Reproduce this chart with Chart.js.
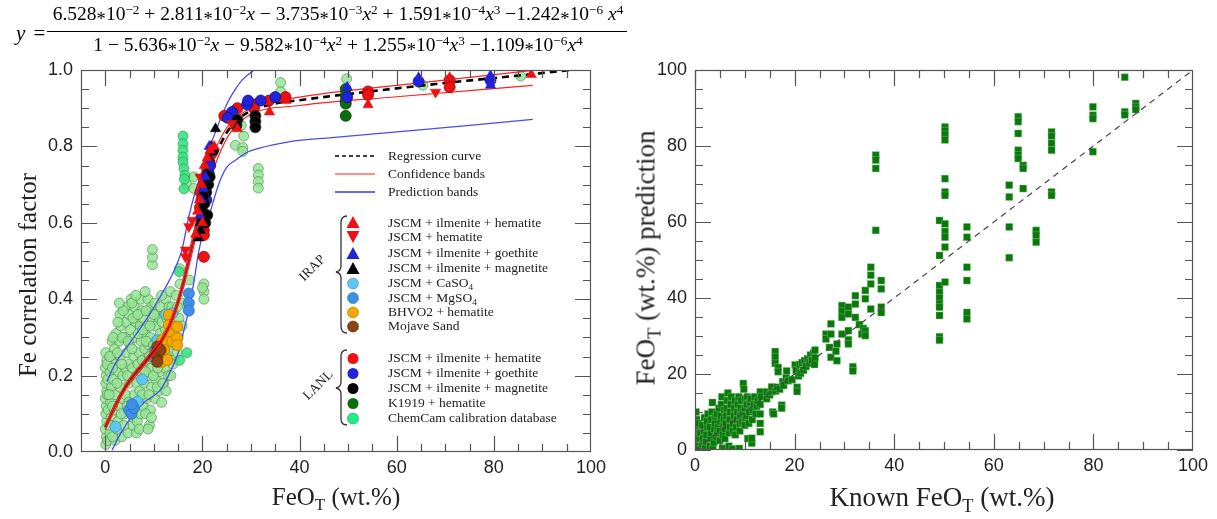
<!DOCTYPE html>
<html>
<head>
<meta charset="utf-8">
<script src="https://cdn.jsdelivr.net/npm/chart.js@4.4.1/dist/chart.umd.min.js"></script>
<style>
  body { margin: 0; width: 1217px; height: 519px; position: relative; overflow: hidden; background: #fff;
         font-family: "Liberation Serif", "Times New Roman", serif; color: #222; }
  canvas { position: absolute; top: 0; }
  #leftChart { left: 0; }
  #rightChart { left: 615px; }
  .txt { position: absolute; white-space: nowrap; }
  .rot { transform: translate(-50%, -50%) rotate(-90deg); }
  .ctr { transform: translate(-50%, -50%); }
  sup { font-size: 0.68em; position: relative; top: -0.45em; vertical-align: baseline; }
  sub { font-size: 0.68em; position: relative; top: 0.3em; vertical-align: baseline; }
  .ast { position: relative; top: 0.28em; font-size: 0.95em; }
  #fy { left: 16px; top: 21px; font-size: 21px; color: #000; word-spacing: 3px; }
  #num, #den { left: 51px; width: 574px; text-align: center; font-size: 19.5px; color: #000; }
  #num { top: 3px; }
  #den { top: 34px; }
  #bar { position: absolute; left: 47px; top: 31px; width: 580px; height: 1px; background: #000; }
  .leg { font-size: 13.5px; line-height: 16px; left: 388px; }
  .grp { font-size: 13.5px; transform: translate(-50%, -50%) rotate(-45deg); }
</style>
</head>
<body>
<canvas id="leftChart" width="615" height="519"></canvas>
<canvas id="rightChart" width="602" height="519"></canvas>

<div id="fy" class="txt"><i>y</i> =</div>
<div id="num" class="txt">6.528<span class="ast">*</span>10<sup>−2</sup> + 2.811<span class="ast">*</span>10<sup>−2</sup><i>x</i> − 3.735<span class="ast">*</span>10<sup>−3</sup><i>x</i><sup>2</sup> + 1.591<span class="ast">*</span>10<sup>−4</sup><i>x</i><sup>3</sup> −1.242<span class="ast">*</span>10<sup>−6</sup> <i>x</i><sup>4</sup></div>
<div id="bar"></div>
<div id="den" class="txt">1 − 5.636<span class="ast">*</span>10<sup>−2</sup><i>x</i> − 9.582<span class="ast">*</span>10<sup>−4</sup><i>x</i><sup>2</sup> + 1.255<span class="ast">*</span>10<sup>−4</sup><i>x</i><sup>3</sup> −1.109<span class="ast">*</span>10<sup>−6</sup><i>x</i><sup>4</sup></div>

<div class="txt rot" style="left:28px;top:275px;font-size:25px">Fe correlation factor</div>
<div class="txt ctr" style="left:336px;top:497px;font-size:25px">FeO<sub>T</sub> (wt.%)</div>
<div class="txt rot" style="left:646px;top:258px;font-size:27px">FeO<sub>T</sub> (wt.%) prediction</div>
<div class="txt ctr" style="left:942px;top:497px;font-size:27px">Known FeO<sub>T</sub> (wt.%)</div>

<svg width="1217" height="519" style="position:absolute;left:0;top:0">
  <line x1="335" y1="156" x2="375" y2="156" stroke="#000" stroke-width="1.4" stroke-dasharray="4,3"/>
  <line x1="335" y1="174" x2="375" y2="174" stroke="#ff2020" stroke-width="1.2"/>
  <line x1="335" y1="192" x2="375" y2="192" stroke="#6a6af5" stroke-width="1.8"/>
  <path d="M347 216 Q341 216 341 223 L341 266 Q341 271 336 272 Q341 273 341 278 L341 326 Q341 333 347 333" fill="none" stroke="#333" stroke-width="1.3"/>
  <path d="M347 350 Q341 350 341 356 L341 382 Q341 387 336 388 Q341 389 341 394 L341 419 Q341 425 347 425" fill="none" stroke="#333" stroke-width="1.3"/>
  <polygon points="353,216 359.5,228 346.5,228" fill="#ee1111"/>
  <polygon points="353,243 359.5,231 346.5,231" fill="#ee1111"/>
  <polygon points="353,247 359.5,259 346.5,259" fill="#2222dd"/>
  <polygon points="353,262 359.5,274 346.5,274" fill="#000"/>
  <circle cx="353" cy="283.5" r="5.5" fill="#5cc8f2" stroke="#4a90b0" stroke-width="0.6"/>
  <circle cx="353" cy="298" r="5.5" fill="#3d8fe8" stroke="#3070b0" stroke-width="0.6"/>
  <circle cx="353" cy="312.5" r="5.5" fill="#f5a800" stroke="#b07a00" stroke-width="0.6"/>
  <circle cx="353" cy="326.5" r="5.5" fill="#8b4513" stroke="#5a2d0c" stroke-width="0.6"/>
  <circle cx="353" cy="358.5" r="5.5" fill="#ee1111"/>
  <circle cx="353" cy="373.5" r="5.5" fill="#2222dd"/>
  <circle cx="353" cy="388.5" r="5.5" fill="#000"/>
  <circle cx="353" cy="403.5" r="5.5" fill="#0b6e0b"/>
  <circle cx="353" cy="418.5" r="5.5" fill="#22ee88" stroke="#1aa060" stroke-width="0.6"/>
</svg>

<div class="txt leg" style="top:148px">Regression curve</div>
<div class="txt leg" style="top:166px">Confidence bands</div>
<div class="txt leg" style="top:184px">Prediction bands</div>
<div class="txt leg" style="top:215px">JSCM + ilmenite + hematite</div>
<div class="txt leg" style="top:229px">JSCM + hematite</div>
<div class="txt leg" style="top:245px">JSCM + ilmenite + goethite</div>
<div class="txt leg" style="top:260px">JSCM + ilmenite + magnetite</div>
<div class="txt leg" style="top:275px">JSCM + CaSO<sub>4</sub></div>
<div class="txt leg" style="top:290px">JSCM + MgSO<sub>4</sub></div>
<div class="txt leg" style="top:304px">BHVO2 + hematite</div>
<div class="txt leg" style="top:318px">Mojave Sand</div>
<div class="txt leg" style="top:350px">JSCM + ilmenite + hematite</div>
<div class="txt leg" style="top:365px">JSCM + ilmenite + goethite</div>
<div class="txt leg" style="top:380px">JSCM + ilmenite + magnetite</div>
<div class="txt leg" style="top:395px">K1919 + hematite</div>
<div class="txt leg" style="top:410px">ChemCam calibration database</div>
<div class="txt grp" style="left:312px;top:268px">IRAP</div>
<div class="txt grp" style="left:318px;top:385px">LANL</div>

<script>
// ---- left panel: axis ticks ----
const leftXTicks = [0, 20, 40, 60, 80, 100];
const leftXMinor = [0, 5, 10, 15, 20, 25, 30, 35, 40, 45, 50, 55, 60, 65, 70, 75, 80, 85, 90, 95];
const leftYTicks = [0, 0.2, 0.4, 0.6, 0.8, 1.0];
const leftYMinor = [0.05, 0.1, 0.15, 0.2, 0.25, 0.3, 0.35, 0.4, 0.45, 0.5, 0.55, 0.6, 0.65, 0.7, 0.75, 0.8, 0.85, 0.9, 0.95];

// ---- left panel: curves ----
const regX = [0, 2, 4, 6, 8, 10, 12, 14, 16, 18, 20, 22, 24, 26, 28, 30, 35, 40, 50, 60, 70, 80, 90, 96];
const regY = [0.065, 0.122, 0.167, 0.203, 0.233, 0.264, 0.300, 0.356, 0.439, 0.546, 0.656, 0.749, 0.813, 0.854, 0.878, 0.893, 0.912, 0.921, 0.937, 0.952, 0.966, 0.979, 0.992, 1.0];
const confUpX = [0, 4, 8, 12, 14, 16, 18, 20, 22, 24, 26, 30, 40, 60, 88];
const confUpY = [0.072, 0.174, 0.24, 0.306, 0.364, 0.452, 0.565, 0.675, 0.77, 0.828, 0.864, 0.9, 0.929, 0.96, 0.999];
const confLoX = [0, 4, 8, 12, 14, 16, 18, 20, 22, 24, 26, 30, 40, 60, 88];
const confLoY = [0.058, 0.16, 0.226, 0.294, 0.348, 0.426, 0.527, 0.636, 0.728, 0.795, 0.84, 0.884, 0.907, 0.93, 0.96];
const predUpX = [0.3, 2, 4.5, 7, 9.7, 11, 12.8, 14, 15, 15.8, 17.2, 18.5, 20, 21.3, 22.6, 24, 25.4, 26.8, 28.2, 30.6, 31.5];
const predUpY = [0.184, 0.23, 0.276, 0.32, 0.372, 0.40, 0.44, 0.47, 0.50, 0.53, 0.616, 0.68, 0.738, 0.79, 0.835, 0.88, 0.92, 0.95, 0.974, 1.0, 1.01];
const predLoX = [1.4, 3, 5.9, 8, 11.3, 13, 15.2, 16.2, 17.2, 18.3, 19.3, 20.3, 21.3, 23.4, 25, 26.8, 29, 31.6, 37.8, 46.7, 60, 75, 88];
const predLoY = [0.005, 0.045, 0.101, 0.13, 0.162, 0.2, 0.267, 0.32, 0.372, 0.45, 0.529, 0.58, 0.616, 0.703, 0.745, 0.764, 0.783, 0.795, 0.812, 0.823, 0.838, 0.855, 0.871];

// ---- left panel: samples [FeOT, factor] ----
const chemcam = [
  [0.1,0.02],[0.2,0.04],[0.0,0.06],[0.3,0.08],[0.1,0.1],[0.2,0.12],[0.0,0.14],[0.3,0.16],[0.1,0.18],[0.2,0.2],[0.0,0.22],[0.3,0.24],[0.1,0.26],[0.5,0.03],[0.6,0.11],[0.5,0.19],
  [1.0,0.05],[1.2,0.09],[1.1,0.13],[1.3,0.17],[1.0,0.21],[1.2,0.25],[1.4,0.29],[1.8,0.07],[1.9,0.11],[2.0,0.15],[1.7,0.19],[2.1,0.23],[1.9,0.27],[2.2,0.31],[2.0,0.03],
  [2.6,0.08],[2.8,0.12],[3.0,0.17],[2.7,0.21],[3.1,0.25],[2.9,0.29],[3.2,0.33],[3.0,0.36],[3.4,0.04],[3.5,0.14],[3.6,0.2],
  [4.0,0.1],[4.2,0.15],[4.1,0.22],[4.4,0.26],[4.0,0.3],[4.3,0.34],[4.5,0.38],[4.8,0.13],[5.0,0.18],[4.9,0.23],[5.1,0.28],[5.2,0.32],[4.9,0.36],[5.3,0.4],[4.7,0.05],
  [5.6,0.07],[5.8,0.09],[6.0,0.15],[6.2,0.2],[5.9,0.25],[6.1,0.3],[6.3,0.34],[6.0,0.38],[6.4,0.05],[6.6,0.08],[6.5,0.18],
  [7.0,0.06],[7.2,0.1],[7.1,0.16],[7.3,0.21],[7.0,0.26],[7.4,0.29],[7.2,0.33],[7.5,0.37],[7.3,0.4],[7.8,0.12],[8.0,0.18],[7.9,0.23],[8.1,0.27],[8.2,0.31],[7.8,0.35],
  [8.6,0.14],[8.8,0.2],[8.5,0.24],[8.9,0.28],[8.7,0.33],[9.0,0.37],[8.8,0.4],[9.3,0.11],[9.5,0.17],[9.4,0.22],[9.6,0.26],[9.3,0.3],[9.7,0.34],[9.5,0.38],[9.7,0.49],[9.7,0.51],[9.7,0.53],[9.1,0.07],
  [10.2,0.14],[10.4,0.19],[10.1,0.24],[10.5,0.29],[10.3,0.33],[10.6,0.36],[10.2,0.39],[11.0,0.16],[11.2,0.21],[10.9,0.26],[11.3,0.31],[11.1,0.35],[11.4,0.38],[11.6,0.13],
  [12.0,0.18],[12.3,0.22],[12.1,0.27],[12.4,0.32],[12.2,0.36],[12.5,0.4],[13.0,0.2],[13.2,0.25],[12.9,0.3],[13.3,0.34],[13.1,0.38],[13.4,0.42],
  [14.0,0.24],[14.2,0.28],[14.4,0.33],[14.1,0.37],[14.6,0.41],[15.0,0.3],[15.2,0.35],[15.4,0.44],[15.3,0.48],[15.8,0.33],[16.0,0.39],
  [0.4,0.15],[0.4,0.23],[0.8,0.07],[0.8,0.15],[0.9,0.25],[1.5,0.04],[1.5,0.12],[1.5,0.22],[1.6,0.3],[2.4,0.06],[2.4,0.18],[2.5,0.26],[2.6,0.34],
  [3.3,0.1],[3.4,0.23],[3.5,0.3],[3.7,0.37],[3.8,0.07],[4.5,0.12],[4.6,0.2],[4.7,0.29],[5.5,0.12],[5.6,0.22],[5.5,0.27],[5.7,0.35],[5.5,0.39],
  [6.8,0.13],[6.7,0.23],[6.8,0.31],[6.7,0.36],[7.6,0.15],[7.6,0.24],[7.7,0.32],[8.3,0.1],[8.3,0.21],[8.4,0.29],[8.4,0.37],[9.0,0.15],[9.1,0.25],[9.2,0.33],
  [9.9,0.2],[9.9,0.28],[10.0,0.36],[10.7,0.17],[10.8,0.22],[11.7,0.24],[11.8,0.29],[11.7,0.34],[12.6,0.25],[12.7,0.35],[13.6,0.28],[13.7,0.38],[14.8,0.26],[14.9,0.38],
  [2.9,0.39],[6.3,0.41],[8.2,0.42],[11.6,0.41],[12.5,0.16],[13.5,0.2],[11.8,0.18],[13.9,0.23],[9.5,0.09],[8.8,0.06],
  [17.3,0.45],[20.3,0.44],[20.3,0.42],[20.3,0.40],[20.0,0.43],
  [16.8,0.7],[18.2,0.72],[18.2,0.69],[26.8,0.803],[28.3,0.797],[28.3,0.787],[28.5,0.827],[28.0,0.855],
  [31.5,0.742],[31.5,0.725],[31.5,0.708],[31.5,0.691],[36.1,0.967],[36.1,0.943],[49.7,0.977],[65.4,0.96],[85.5,0.984]
];
const chemcamBright = [[16.0,0.827],[16.0,0.807],[16.0,0.79],[16.0,0.772],[16.0,0.759],[16.2,0.742],[16.4,0.724],[16.3,0.714],[16.2,0.689],[15.2,0.472],[15.3,0.24],[16.8,0.26]];
const k1919 = [[49.5,0.95],[49.5,0.934],[49.5,0.92],[49.5,0.912],[49.5,0.88]];
const lanlRed = [[20.3,0.581],[20.3,0.568],[20.3,0.511],[19.5,0.64],[19.8,0.66],[20.2,0.7],[20.6,0.72],[21.0,0.74],[21.4,0.76],[20.0,0.62],[19.6,0.68],[21.8,0.78],[24.5,0.88],[27.2,0.90],[30.6,0.91],[30.6,0.90],[33.7,0.92],[37.1,0.929],[54.1,0.944],[54.1,0.935],[70.9,0.973],[70.9,0.955],[21.0,0.71]];
const lanlBlue = [[26.1,0.89],[29.2,0.91],[32.0,0.92],[35.0,0.929],[49.8,0.929],[64.5,0.97],[79.3,0.973],[20.5,0.68],[21.0,0.7],[21.3,0.73],[21.6,0.75],[20.8,0.66],[25.2,0.875],[29.4,0.92]];
const lanlBlack = [[30.9,0.88],[30.9,0.865],[30.9,0.85],[27.2,0.87],[27.0,0.855],[20.0,0.63],[20.4,0.65],[20.8,0.68],[21.2,0.7],[21.5,0.72],[20.2,0.67],[19.8,0.61],[21.0,0.62],[22.2,0.79],[20.6,0.6]];
const irapRedUp = [[19.0,0.63],[19.4,0.66],[19.8,0.7],[20.4,0.75],[21.0,0.77],[20.0,0.6],[21.6,0.79],[27.2,0.846],[33.8,0.89],[37.2,0.92],[54.1,0.909],[70.9,0.98],[87.7,0.988],[18.6,0.57],[22.4,0.8]];
const irapRedDown = [[17.9,0.607],[16.5,0.529],[16.5,0.511],[17.2,0.59],[68.0,0.942],[19.5,0.72],[26.0,0.86]];
const irapBlueUp = [[19.8,0.66],[20.2,0.69],[20.6,0.72],[21.0,0.76],[21.4,0.8],[49.8,0.955],[64.5,0.98],[79.3,0.985],[79.3,0.96],[19.5,0.62]];
const irapBlackUp = [[19.2,0.56],[19.5,0.6],[19.8,0.64],[20.1,0.67],[20.5,0.7],[20.9,0.73],[21.3,0.77],[22.7,0.846],[19.6,0.58],[20.0,0.62],[21.8,0.8]];
const caso4 = [[2.1,0.066],[6.6,0.132],[7.6,0.19],[10.7,0.293],[13.8,0.363],[12.5,0.36]];
const mgso4 = [[4.9,0.11],[5.4,0.1],[5.9,0.115],[5.5,0.125],[10.3,0.267],[10.0,0.25],[17.2,0.415],[17.2,0.39],[17.2,0.37]];
const bhvo2 = [[13.1,0.359],[13.1,0.332],[14.8,0.328],[13.1,0.311],[11.7,0.293],[12.8,0.289],[13.8,0.289],[14.8,0.298],[14.8,0.28],[10.7,0.267],[12.1,0.267],[11.4,0.245],[11.7,0.236],[12.8,0.241]];
const mojave = [[10.7,0.276],[10.7,0.263],[10.7,0.25],[10.7,0.236],[11.4,0.267]];

// ---- right panel ----
const rightTicks = [0, 20, 40, 60, 80, 100];
const rightMinor = [0, 5, 10, 15, 20, 25, 30, 35, 40, 45, 50, 55, 60, 65, 70, 75, 80, 85, 90, 95];
const diagX = [0, 100];
const diagY = [0, 100];
const knownPred = [
  [0.2,0.5],[0.2,2],[0.2,3.5],[0.3,5],[0.2,6.5],[0.3,8],[0.2,10],[0.8,1],[0.9,3],[1,4.5],[0.7,7],[1.2,0.3],
  [1.5,1.5],[1.6,3],[1.8,5],[1.5,6.5],[1.9,8.5],[2,0.5],[2.2,2.2],[2.3,4],[2.5,6],[2.4,7.5],[2.6,9.5],
  [3,1],[3.1,3],[3.2,4.5],[3,6],[3.3,8],[3.4,10],[3.5,12.5],[3.6,0.3],[3.8,2],[3.9,5.5],[4,7],[4.1,8.8],
  [4.3,3.5],[4.5,4.5],[4.6,6],[4.4,9.5],[4.8,11],[5,2.5],[5,5],[5.1,7.5],[5.2,9],[5.3,12],[5.4,14],[5.5,0.5],[5.6,4],[5.7,6.5],[5.8,8],[5.9,10.5],
  [6,3],[6.1,5.5],[6.2,7],[6.3,9],[6.4,11],[6.5,13],[6.6,15],[6.8,1],[6.9,4.5],[7,6],[7,8],[7.1,10],[7.2,12],[7.3,14],[7.5,0.3],
  [7.6,5],[7.7,7],[7.8,9],[7.9,11],[8,13],[8.1,4],[8.3,6],[8.4,8],[8.5,10],[8.6,12],[8.8,14],[8.9,0.4],[9,5],[9,7],[9.1,9],
  [9.2,11],[9.3,13],[9.5,7.5],[9.6,10],[9.7,17.5],[9.8,16],[10,6.5],[10,8.5],[10,11],[10.1,13.5],[10.3,9],[10.4,12],[10.5,14],[10.6,3],[10.8,7],[10.9,10],[11,12.5],[11.2,13.5],
  [11.4,1.8],[11.4,3.1],[11.5,8],[11.6,10.5],[11.8,12],[12,14],[12.2,9.5],[12.4,11.5],[12.6,13],[13.1,4.8],[13.1,7],[13.1,9.5],[13.1,12],[13.1,15.3],[13.3,14],
  [14.4,13.5],[14.4,15.3],[15,14.5],[15.4,15.3],[15.4,16.6],[15.6,10],[15.8,9.5],[16.2,15.5],[16.5,16.5],[17,16],[17.4,11.8],[17.4,11],[17.6,18],[17.8,17],[18.3,19],[18.4,20.8],[18.7,18.2],[16.1,25.9],[16.1,24.5],[16.1,22.8],[16.7,21.7],[16.7,20.6],
  [19.5,18.5],[20.1,22.4],[20.3,21],[20.5,16.5],[20.5,15.4],[20.8,19.5],[21,22.5],[21.2,20.2],[21.5,23],[21.8,21],[22,23.5],[22.3,22],[22.6,24],[23,22.8],[23.2,25],[23.5,23.6],[23.8,25.5],[24.1,26.3],[24.1,24.2],[24,22.5],
  [26.3,30.5],[26.3,29.2],[27.3,33.2],[27.3,30.5],[27,27],[27.3,24.4],[28.5,27.9],[28.5,23.5],[28.3,26],[29.5,38],[29.5,36.5],[29.5,34.9],[29.5,30.5],[30.8,37.6],[30.8,35.8],[30.8,31.4],[30.8,29],[30.8,27.9],[31.7,21.9],[31.7,20.8],
  [32.2,40.6],[32.2,38.4],[32.2,34.9],[33,33],[33.8,32],[33.5,30.5],[34.2,42],[34.2,39.8],[34.2,31.4],[34.2,30.1],[35.3,48.1],[35.3,46],[35.3,43.7],[35.3,37.1],[36.3,77.6],[36.3,76.3],[36.3,74.1],[36.3,57.8],[37.4,44.6],[37.4,42.4],[37.4,37.6],[37.4,36.2],
  [49.1,60.4],[49.1,51.2],[49.1,43.3],[49.1,41.5],[49.1,40],[49.1,38.5],[49.1,37.6],[49.1,35.4],[49.1,29.8],[49.1,28.9],
  [50.2,85],[50.2,84],[50.2,83],[50.2,81.6],[50.2,71.4],[50.2,67.9],[50.2,67],[50.2,59.5],[50.2,57.5],[50.2,56],[50.2,53.4],[50.2,44.2],
  [54.6,58.7],[54.6,56],[54.6,48.1],[54.6,44.6],[54.6,36.2],[54.6,34.5],
  [63.1,69.7],[63.1,66.6],[63.1,58.7],[63.1,50.6],
  [64.9,87.7],[64.9,86.4],[64.9,83.3],[64.9,78.9],[64.9,77.6],[64.9,76.7],[65.9,74.9],[65.9,74.1],[65.9,68.8],
  [68.5,57.8],[68.5,56.5],[68.5,54.7],
  [71.6,83.7],[71.6,82.6],[71.6,80.7],[71.6,78.9],[71.6,67.9],[71.6,67],
  [79.9,90.3],[79.9,88.1],[79.9,87.2],[79.9,78.5],
  [86.3,98.1],[86.3,89],[86.3,88.2],[88.5,91.2],[88.5,90.3],[88.5,89.6]
];

const pairs = a => a.map(([x, y]) => ({x, y}));
const zipXY = (xs, ys) => xs.map((x, i) => ({x, y: ys[i]}));
const regPts = zipXY(regX, regY);

// inward ticks on all four sides + frame
const frameTicks = {
  id: 'frameTicks',
  afterDraw(chart, args, o) {
    const {ctx, chartArea: a, scales: {x, y}} = chart;
    ctx.save();
    ctx.strokeStyle = '#555';
    ctx.lineWidth = 1.2;
    ctx.beginPath();
    o.xMinor.forEach(v => {
      const p = Math.round(x.getPixelForValue(v)) + 0.5;
      const len = o.xMajor.includes(v) ? o.major : o.minor;
      ctx.moveTo(p, a.bottom); ctx.lineTo(p, a.bottom - len);
      ctx.moveTo(p, a.top); ctx.lineTo(p, a.top + len);
    });
    o.yMinor.forEach(v => {
      const p = Math.round(y.getPixelForValue(v)) + 0.5;
      const len = o.yMajor.includes(v) ? o.major : o.minor;
      ctx.moveTo(a.left, p); ctx.lineTo(a.left + len, p);
      ctx.moveTo(a.right, p); ctx.lineTo(a.right - len, p);
    });
    ctx.stroke();
    ctx.strokeRect(a.left + 0.5, a.top + 0.5, a.width - 1, a.height - 1);
    ctx.restore();
  }
};

const tickFont = {family: '"Liberation Sans", Arial, sans-serif', size: 18};

function axes(xMin, xMax, yMin, yMax, xTicks, yTicks, yFmt, yWidth, xHeight) {
  return {
    x: {
      type: 'linear', min: xMin, max: xMax,
      afterBuildTicks: s => { s.ticks = xTicks.map(v => ({value: v})); },
      afterFit: s => { s.height = xHeight; },
      ticks: {font: tickFont, color: '#222', padding: 5, maxRotation: 0, autoSkip: false},
      grid: {display: false, drawTicks: false},
      border: {display: false}
    },
    y: {
      type: 'linear', min: yMin, max: yMax,
      afterBuildTicks: s => { s.ticks = yTicks.map(v => ({value: v})); },
      afterFit: s => { s.width = yWidth; },
      ticks: {font: tickFont, color: '#222', padding: 8, autoSkip: false, callback: yFmt},
      grid: {display: false, drawTicks: false},
      border: {display: false}
    }
  };
}

const circ = (data, fill, edge, order, r = 5.5) => ({
  data: pairs(data), pointStyle: 'circle', pointRadius: r,
  backgroundColor: fill, borderColor: edge, borderWidth: 0.8, order
});
const tri = (data, fill, order, rot = 0) => ({
  data: pairs(data), pointStyle: 'triangle', pointRadius: 6, rotation: rot,
  backgroundColor: fill, borderColor: fill, borderWidth: 0.5, order
});
const curve = (pts, color, width, dash, order) => ({
  data: pts, showLine: true, pointRadius: 0, borderColor: color,
  borderWidth: width, borderDash: dash, cubicInterpolationMode: 'monotone', fill: false, order
});

new Chart(document.getElementById('leftChart'), {
  type: 'scatter',
  data: {
    datasets: [
      circ(chemcam, 'rgba(150,228,150,0.85)', 'rgba(70,130,70,0.75)', 40, 5),
      circ(chemcamBright, 'rgba(60,226,130,0.9)', 'rgba(40,150,80,0.8)', 39, 5),
      curve(zipXY(predUpX, predUpY), '#4a4af5', 1.3, [], 30),
      curve(zipXY(predLoX, predLoY), '#4a4af5', 1.3, [], 30),
      circ(caso4, '#5cc8f2', '#4a90b0', 20),
      circ(mgso4, '#3d8fe8', '#2e6fb5', 19),
      circ(bhvo2, '#f5a800', '#b07a00', 18),
      circ(mojave, '#8b4513', '#5a2d0c', 17),
      // low part of the regression is hidden under the confidence bands (dark red)
      curve(regPts.filter(p => p.x <= 20), 'rgba(140,0,0,0.85)', 2.6, [], 16),
      curve(zipXY(confUpX, confUpY), '#ff2020', 1.2, [], 15),
      curve(zipXY(confLoX, confLoY), '#ff2020', 1.2, [], 15),
      curve(regPts.filter(p => p.x >= 20), '#000', 2.6, [7, 5], 14),
      circ(k1919, '#0b6e0b', '#064006', 12),
      circ(lanlRed, '#ee1111', '#990000', 11),
      circ(lanlBlue, '#2222dd', '#111188', 10),
      circ(lanlBlack, '#000', '#333', 9),
      tri(irapRedDown, '#ee1111', 8, 180),
      tri(irapBlackUp, '#000', 7),
      tri(irapBlueUp, '#2222dd', 6),
      tri(irapRedUp, '#ee1111', 5)
    ]
  },
  options: {
    responsive: false, animation: false, devicePixelRatio: 1,
    layout: {padding: {top: 70, right: 24, left: 0, bottom: 0}},
    scales: axes(-5, 100, 0, 1, leftXTicks, leftYTicks, v => v.toFixed(1), 81, 67),
    plugins: {
      legend: {display: false}, tooltip: {enabled: false},
      frameTicks: {xMajor: leftXTicks, xMinor: leftXMinor, yMajor: leftYTicks, yMinor: leftYMinor, major: 16, minor: 8}
    }
  },
  plugins: [frameTicks]
});

new Chart(document.getElementById('rightChart'), {
  type: 'scatter',
  data: {
    datasets: [
      {data: zipXY(diagX, diagY), showLine: true, pointRadius: 0, borderColor: '#444',
       borderWidth: 1.2, borderDash: [6, 5], order: 0},
      {data: pairs(knownPred), pointStyle: 'rect', pointRadius: 5,
       backgroundColor: '#0a780a', borderColor: 'rgba(150,210,150,0.6)', borderWidth: 0.6, order: 1}
    ]
  },
  options: {
    responsive: false, animation: false, devicePixelRatio: 1,
    layout: {padding: {top: 70, right: 24, left: 0, bottom: 0}},
    scales: axes(0, 100, 0, 100, rightTicks, rightTicks, v => String(v), 80, 69),
    plugins: {
      legend: {display: false}, tooltip: {enabled: false},
      frameTicks: {xMajor: rightTicks, xMinor: rightMinor, yMajor: rightTicks, yMinor: rightMinor, major: 16, minor: 8}
    }
  },
  plugins: [frameTicks]
});
</script>
</body>
</html>
